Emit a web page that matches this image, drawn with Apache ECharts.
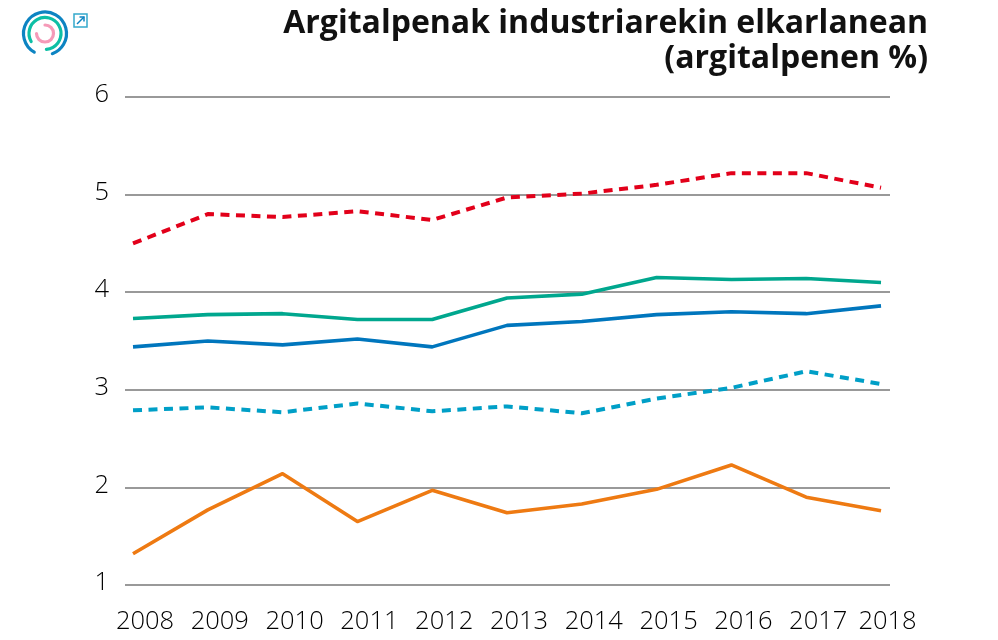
<!DOCTYPE html>
<html><head><meta charset="utf-8">
<style>html,body{margin:0;padding:0;background:#fff}#c{width:998px;height:640px}</style>
<script src="https://cdn.jsdelivr.net/npm/echarts@6/dist/echarts.min.js"></script>
</head><body><div id="c"></div>
<script>
const years = [2008,2009,2010,2011,2012,2013,2014,2015,2016,2017,2018];
const redDashed = [4.50,4.80,4.77,4.83,4.74,4.97,5.01,5.10,5.22,5.22,5.07];
const green = [3.73,3.77,3.78,3.72,3.72,3.94,3.98,4.15,4.13,4.14,4.10];
const blue = [3.44,3.50,3.46,3.52,3.44,3.66,3.70,3.77,3.80,3.78,3.86];
const blueDashed = [2.79,2.82,2.77,2.86,2.78,2.83,2.76,2.91,3.02,3.19,3.06];
const orange = [1.32,1.77,2.14,1.65,1.97,1.74,1.83,1.98,2.23,1.90,1.76];
const FONT = '"Open Sans"';
const mk = (vals,color,dashed)=>({type:'line',data:vals.map((v,i)=>[years[i],v]),symbol:'none',silent:true,
  lineStyle:{color,width:dashed?4:3.6,type:dashed?[9,6.5]:'solid',cap:'butt',join:'round'}});
const chart = echarts.init(document.getElementById('c'),null,{renderer:'canvas'});
const arc=(r,a0,a1,color)=>({type:'arc',shape:{cx:45,cy:33.5,r,startAngle:a0*Math.PI/180,endAngle:a1*Math.PI/180,clockwise:true},
  style:{stroke:color,fill:null,lineWidth:3.2,lineCap:'round'},silent:true});
const lab={fontFamily:FONT,fontSize:25.5,fontWeight:300,color:'#000'};
chart.setOption({
  animation:false,
  grid:{left:125,right:108,top:97,bottom:55,containLabel:false},
  xAxis:{type:'value',min:2007.893,max:2018.12,
    axisLine:{show:false},axisTick:{show:false},splitLine:{show:false},
    axisLabel:{customValues:years,margin:24,hideOverlap:false,...lab,
      formatter:v=>{const y=Math.round(v);return y===2018?'{b|'+y+'}':'{a|'+y+'}';},
      rich:{a:{padding:[0,0,0,24],...lab},b:{padding:[0,0,0,13],...lab}}}},
  yAxis:{type:'value',min:1,max:6,interval:1,
    axisLine:{show:false},axisTick:{show:false},
    splitLine:{show:true,lineStyle:{color:'#999',width:2}},
    axisLabel:{margin:16,...lab,formatter:v=>'{a|'+v+'}',rich:{a:{padding:[0,0,4,0],...lab}}}},
  series:[mk(orange,'#ee7a12'),mk(blueDashed,'#009fc7',true),mk(blue,'#0076bd'),mk(green,'#00a78e'),mk(redDashed,'#e2001a',true)],
  graphic:[
    {type:'text',right:70,top:8,style:{text:'Argitalpenak industriarekin elkarlanean',align:'right',font:'700 32px "Open Sans"',fill:'#111'}},
    {type:'text',right:70,top:43,style:{text:'(argitalpenen %)',align:'right',font:'700 32px "Open Sans"',fill:'#111'}},
    arc(21.5,120,70+360,'#0d84c2'),
    arc(16,150,85+360,'#0dbfa5'),
    arc(8.5,270,180+360,'#f59ab8'),
    {type:'rect',shape:{x:74,y:14,width:13,height:13},style:{stroke:'#35a9cc',fill:null,lineWidth:1.5},silent:true},
    {type:'polyline',shape:{points:[[77,24],[84,17]]},style:{stroke:'#0d84c2',fill:null,lineWidth:1.5},silent:true},
    {type:'polyline',shape:{points:[[79.5,17],[84,17],[84,21.5]]},style:{stroke:'#0d84c2',fill:null,lineWidth:1.5},silent:true}
  ]
});
</script></body></html>
